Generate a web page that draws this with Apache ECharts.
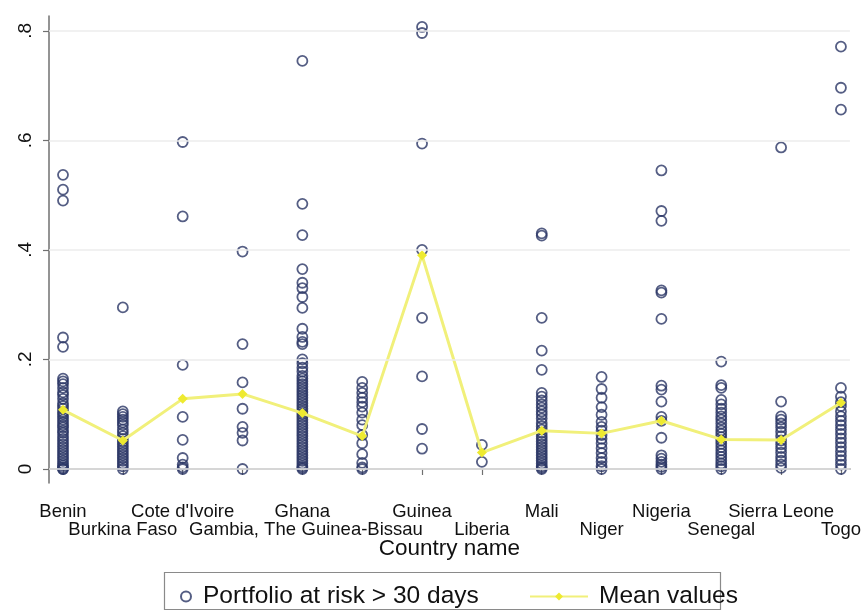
<!DOCTYPE html>
<html>
<head>
<meta charset="utf-8">
<title>Portfolio at risk by country</title>
<script src="https://cdn.jsdelivr.net/npm/echarts@6/dist/echarts.min.js"></script>
<style>
  html, body { margin: 0; padding: 0; background: #ffffff; }
  #chart { width: 864px; height: 610px; }
</style>
</head>
<body>
<div id="chart"></div>
<script>
// Countries along the x axis (positions 1..14)
const countries = ['Benin', 'Burkina Faso', "Cote d'Ivoire", 'Gambia, The', 'Ghana',
  'Guinea-Bissau', 'Guinea', 'Liberia', 'Mali', 'Niger', 'Nigeria', 'Senegal',
  'Sierra Leone', 'Togo'];

// Portfolio at risk > 30 days, one value per institution
const benin = [0.537, 0.51, 0.49, 0.24, 0.223, 0.165, 0.16, 0.155, 0.148, 0.14, 0.135, 0.128,
  0.12, 0.115, 0.11, 0.104, 0.1, 0.095, 0.09, 0.085, 0.08, 0.076, 0.07, 0.066, 0.06, 0.055,
  0.05, 0.045, 0.04, 0.035, 0.03, 0.025, 0.02, 0.015, 0.01, 0.006, 0.003, 0, 0];
const burkinaFaso = [0.295, 0.105, 0.1, 0.095, 0.09, 0.085, 0.08, 0.072, 0.066, 0.06, 0.055,
  0.05, 0.045, 0.04, 0.035, 0.03, 0.025, 0.02, 0.015, 0.01, 0.005, 0];
const coteDivoire = [0.597, 0.461, 0.19, 0.095, 0.053, 0.02, 0.008, 0.003, 0];
const gambia = [0.397, 0.228, 0.158, 0.11, 0.077, 0.066, 0.052, 0];
const ghana = [0.745, 0.484, 0.427, 0.365, 0.34, 0.33, 0.314, 0.294, 0.256, 0.241, 0.232,
  0.228, 0.2, 0.193, 0.185, 0.178, 0.17, 0.165, 0.16, 0.155, 0.15, 0.145, 0.14, 0.135, 0.13,
  0.125, 0.12, 0.115, 0.11, 0.105, 0.1, 0.095, 0.09, 0.085, 0.08, 0.075, 0.07, 0.065, 0.06,
  0.055, 0.05, 0.045, 0.04, 0.035, 0.03, 0.025, 0.02, 0.015, 0.01, 0.005, 0.002, 0];
const guineaBissau = [0.159, 0.148, 0.139, 0.13, 0.122, 0.114, 0.103, 0.09, 0.08, 0.062,
  0.047, 0.027, 0.011, 0.003, 0];
const guinea = [0.807, 0.796, 0.594, 0.4, 0.276, 0.169, 0.073, 0.037];
const liberia = [0.044, 0.013];
const mali = [0.43, 0.426, 0.276, 0.216, 0.181, 0.139, 0.132, 0.125, 0.118, 0.112, 0.105,
  0.099, 0.092, 0.084, 0.078, 0.072, 0.066, 0.06, 0.055, 0.05, 0.045, 0.04, 0.035, 0.03,
  0.025, 0.02, 0.015, 0.01, 0.005, 0.002, 0];
const niger = [0.168, 0.146, 0.13, 0.113, 0.099, 0.086, 0.077, 0.07, 0.062, 0.055, 0.047,
  0.038, 0.029, 0.02, 0.013, 0.005, 0];
const nigeria = [0.545, 0.471, 0.453, 0.326, 0.322, 0.274, 0.152, 0.145, 0.123, 0.095, 0.088,
  0.057, 0.025, 0.019, 0.013, 0.008, 0.004, 0];
const senegal = [0.196, 0.153, 0.148, 0.126, 0.118, 0.11, 0.103, 0.096, 0.09, 0.083, 0.076,
  0.07, 0.064, 0.058, 0.052, 0.046, 0.04, 0.034, 0.028, 0.022, 0.016, 0.01, 0.005, 0];
const sierraLeone = [0.587, 0.123, 0.096, 0.09, 0.083, 0.076, 0.068, 0.06, 0.052, 0.045,
  0.038, 0.03, 0.022, 0.015, 0.008, 0.002];
const togo = [0.771, 0.696, 0.656, 0.148, 0.132, 0.122, 0.115, 0.105, 0.096, 0.088, 0.08,
  0.072, 0.064, 0.056, 0.048, 0.04, 0.032, 0.024, 0.016, 0.008, 0];

const par30ByCountry = [benin, burkinaFaso, coteDivoire, gambia, ghana, guineaBissau, guinea,
  liberia, mali, niger, nigeria, senegal, sierraLeone, togo];

// Country means of portfolio at risk
const meanValues = [0.108, 0.052, 0.128, 0.137, 0.102, 0.06, 0.39, 0.03, 0.07, 0.065, 0.088,
  0.054, 0.053, 0.121];

// Axis ticks
const xTicks = [1, 2, 3, 4, 5, 6, 7, 8, 9, 10, 11, 12, 13, 14];
const yTicks = [0, 0.2, 0.4, 0.6, 0.8];
const yTickLabels = ['0', '.2', '.4', '.6', '.8'];

const seriesNames = ['Portfolio at risk > 30 days', 'Mean values'];

// Build the chart's point lists
const scatterData = [];
par30ByCountry.forEach((vals, i) => {
  vals.forEach(v => scatterData.push([xTicks[i], v]));
});
const meanData = meanValues.map((v, i) => [xTicks[i], v]);

// Country labels are staggered over two rows
const upperRowTicks = xTicks.filter((t, i) => i % 2 === 0);
const lowerRowTicks = xTicks.filter((t, i) => i % 2 === 1);
const countryAt = v => countries[xTicks.indexOf(Math.round(v))];

const FONT = '"Liberation Sans", Arial, Helvetica, sans-serif';
const AXIS_GREY = '#707070';
const X_MIN = 0.766, X_MAX = 14.15;

const chart = echarts.init(document.getElementById('chart'), null, { renderer: 'canvas' });

const labelStyle = {
  fontFamily: FONT,
  fontSize: 18.5,
  color: '#111111',
  interval: 0,
  hideOverlap: false,
  formatter: countryAt
};

chart.setOption({
  animation: false,
  backgroundColor: '#ffffff',
  grid: { left: 49, right: 14, top: 16, bottom: 127, containLabel: false },
  xAxis: [
    {
      type: 'value',
      position: 'bottom',
      min: X_MIN,
      max: X_MAX,
      axisLine: { show: true, lineStyle: { color: AXIS_GREY, width: 1.5 } },
      axisTick: { show: true, customValues: xTicks, length: 6, lineStyle: { color: AXIS_GREY, width: 1.2 } },
      axisLabel: Object.assign({ customValues: upperRowTicks, margin: 19 }, labelStyle),
      splitLine: { show: false },
      name: 'Country name',
      nameLocation: 'middle',
      nameGap: 54,
      nameMoveOverlap: false,
      nameTextStyle: { fontFamily: FONT, fontSize: 22.5, color: '#111111' }
    },
    {
      type: 'value',
      position: 'bottom',
      min: X_MIN,
      max: X_MAX,
      axisLine: { show: false },
      axisTick: { show: false },
      axisLabel: Object.assign({ customValues: lowerRowTicks, margin: 37 }, labelStyle),
      splitLine: { show: false }
    }
  ],
  yAxis: {
    type: 'value',
    min: -0.0256,
    max: 0.827,
    axisLine: { show: true, lineStyle: { color: AXIS_GREY, width: 1.5 } },
    axisTick: { show: true, customValues: yTicks, length: 6, lineStyle: { color: AXIS_GREY, width: 1.2 } },
    axisLabel: {
      customValues: yTicks,
      interval: 0,
      rotate: 90,
      margin: 14,
      fontFamily: FONT,
      fontSize: 19,
      color: '#111111',
      formatter: v => yTickLabels[yTicks.findIndex(t => Math.abs(t - v) < 1e-9)]
    },
    splitLine: { show: false }
  },
  legend: [
    {
      data: [seriesNames[0]],
      left: 175,
      top: 579,
      itemWidth: 10,
      itemHeight: 10,
      textStyle: { fontFamily: FONT, fontSize: 24.5, color: '#111111', padding: [0, 0, 0, 7] }
    },
    {
      data: [seriesNames[1]],
      left: 524,
      top: 579,
      itemWidth: 58,
      itemHeight: 10,
      textStyle: { fontFamily: FONT, fontSize: 24.5, color: '#111111', padding: [0, 0, 0, 6] }
    }
  ],
  graphic: [
    {
      type: 'rect',
      shape: { x: 164.5, y: 572.5, width: 556, height: 37 },
      style: { fill: 'none', stroke: '#8a8a8a', lineWidth: 1.2 },
      silent: true,
      z: 0
    }
  ],
  series: [
    {
      // horizontal grid lines at the labelled y ticks
      name: 'grid',
      type: 'line',
      data: [],
      silent: true,
      z: 0,
      markLine: {
        silent: true,
        symbol: 'none',
        label: { show: false },
        lineStyle: { color: '#ececec', width: 1.6, type: 'solid' },
        data: yTicks.map(t => ({ yAxis: t }))
      }
    },
    {
      name: seriesNames[0],
      type: 'scatter',
      data: scatterData,
      symbol: 'circle',
      symbolSize: 10,
      z: 2,
      itemStyle: { color: 'rgba(0,0,0,0)', borderColor: '#2b3665', borderWidth: 1.8 }
    },
    {
      name: seriesNames[1],
      type: 'line',
      data: meanData,
      z: 3,
      symbol: 'diamond',
      symbolSize: 10,
      showAllSymbol: true,
      lineStyle: { color: '#f1f07a', width: 3 },
      itemStyle: { color: '#eeea30', borderWidth: 0 }
    }
  ]
});
</script>
</body>
</html>
